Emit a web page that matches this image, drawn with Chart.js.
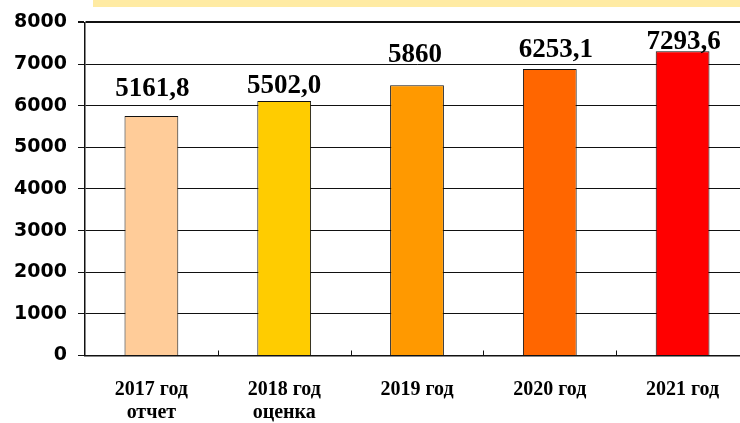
<!DOCTYPE html>
<html>
<head>
<meta charset="utf-8">
<script src="https://cdn.jsdelivr.net/npm/chart.js@4/dist/chart.umd.min.js"></script>
<style>
  html, body { margin: 0; padding: 0; background: #fff; overflow: hidden; }
  #wrap { position: relative; width: 740px; height: 423px; overflow: hidden; }
  #band { position: absolute; left: 93px; top: 0; width: 660px; height: 7px; background: #FFEBA3; }
  #myChart { position: absolute; left: 0; top: 0; }
</style>
</head>
<body>
<div id="wrap">
  <div id="band"></div>
  <canvas id="myChart" width="749" height="423"></canvas>
</div>
<script>
// categories and values
const years = [['2017 год', 'отчет'], ['2018 год', 'оценка'], ['2019 год'], ['2020 год'], ['2021 год']];
const barValues = [5750, 6110, 6490, 6880, 7310];
const valueLabels = ['5161,8', '5502,0', '5860', '6253,1', '7293,6'];
const barColors = ['#FFCC99', '#FFCC00', '#FF9900', '#FF6600', '#FF0000'];
const yTicks = [0, 1000, 2000, 3000, 4000, 5000, 6000, 7000, 8000];

// label text sits a bit differently above each bar in the original
const labelLift = [20, 8.5, 23, 12, 2.5];
const labelShift = [1, 0, -2, 6, 1];

const valueLabelPlugin = {
  id: 'valueLabels',
  afterDatasetsDraw(chart) {
    const ctx = chart.ctx;
    const bars = chart.getDatasetMeta(0).data;
    ctx.save();
    ctx.font = 'bold 27px "Liberation Serif", "Times New Roman", serif';
    ctx.fillStyle = '#000';
    ctx.textAlign = 'center';
    ctx.textBaseline = 'alphabetic';
    bars.forEach((bar, i) => {
      ctx.fillText(valueLabels[i], bar.x + labelShift[i], bar.y - labelLift[i]);
    });
    ctx.restore();
  }
};

// small upward ticks between categories on the x axis
const innerTicksPlugin = {
  id: 'innerTicks',
  afterDraw(chart) {
    const x = chart.scales.x;
    const ctx = chart.ctx;
    const bottom = chart.chartArea.bottom;
    ctx.save();
    ctx.strokeStyle = '#111';
    ctx.lineWidth = 1;
    for (let i = 0; i < years.length - 1; i++) {
      const px = Math.round((x.getPixelForTick(i) + x.getPixelForTick(i + 1)) / 2) + 0.5;
      ctx.beginPath();
      ctx.moveTo(px, bottom - 5);
      ctx.lineTo(px, bottom);
      ctx.stroke();
    }
    ctx.restore();
  }
};

const ctx = document.getElementById('myChart').getContext('2d');
new Chart(ctx, {
  type: 'bar',
  data: {
    labels: years,
    datasets: [{
      data: barValues,
      backgroundColor: barColors,
      borderColor: '#111',
      borderWidth: 1,
      borderSkipped: 'bottom',
      categoryPercentage: 1,
      barPercentage: 0.405
    }]
  },
  options: {
    responsive: false,
    animation: false,
    devicePixelRatio: 1,
    layout: { padding: { left: 0, right: 0, top: 20, bottom: 0 } },
    plugins: {
      legend: { display: false },
      tooltip: { enabled: false },
      title: { display: false }
    },
    scales: {
      x: {
        afterFit(scale) { scale.height = 67.5; },
        grid: { display: false, drawTicks: false },
        border: { display: true, color: '#111', width: 1.5 },
        ticks: {
          color: '#000',
          padding: 23,
          maxRotation: 0,
          font: { family: '"Liberation Serif", "Times New Roman", serif', size: 20, weight: 'bold', lineHeight: 1.15 }
        }
      },
      y: {
        min: 0,
        max: 8000,
        afterFit(scale) { scale.width = 85; },
        afterBuildTicks(scale) { scale.ticks = yTicks.map(v => ({ value: v })); },
        grid: {
          color: '#111',
          lineWidth: c => (c.tick && c.tick.value === 8000 ? 2 : 1),
          tickLength: 7
        },
        border: { display: true, color: '#111', width: 1.5 },
        ticks: {
          color: '#000',
          padding: 11,
          callback: v => String(v),
          font: { family: '"DejaVu Sans", Verdana, sans-serif', size: 19, weight: 'bold' }
        }
      }
    }
  },
  plugins: [valueLabelPlugin, innerTicksPlugin]
});
</script>
</body>
</html>
